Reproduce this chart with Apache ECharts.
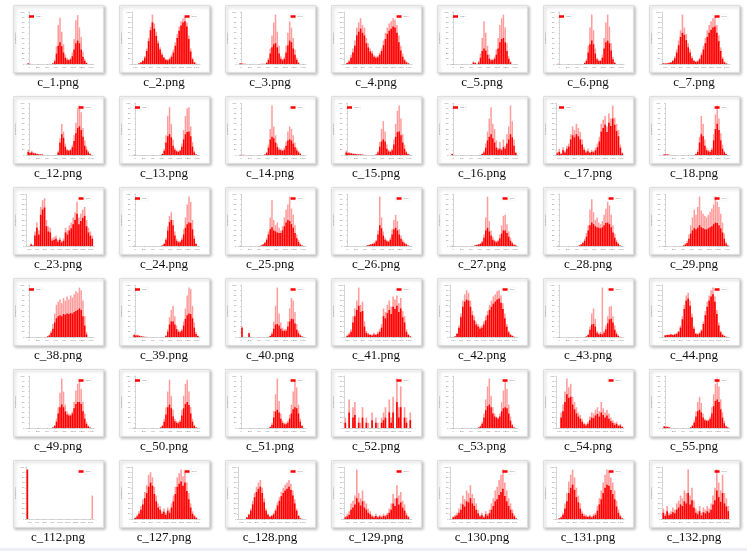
<!DOCTYPE html>
<html>
<head>
<meta charset="utf-8">
<title>histograms</title>
<script src="https://cdn.jsdelivr.net/npm/echarts@6.0.0/dist/echarts.min.js"></script>
<style>
    html, body { margin: 0; padding: 0; background: #fff; }
    #thumbs { width: 747px; height: 551px; }
</style>
</head>
<body>
<div id="thumbs"></div>
<script>
/**
 * 直方图缩略图一览
 */
// file names, row by row (7 per row)
var fileNames = [
    'c_1.png', 'c_2.png', 'c_3.png', 'c_4.png', 'c_5.png', 'c_6.png', 'c_7.png',
    'c_12.png', 'c_13.png', 'c_14.png', 'c_15.png', 'c_16.png', 'c_17.png', 'c_18.png',
    'c_23.png', 'c_24.png', 'c_25.png', 'c_26.png', 'c_27.png', 'c_28.png', 'c_29.png',
    'c_38.png', 'c_39.png', 'c_40.png', 'c_41.png', 'c_42.png', 'c_43.png', 'c_44.png',
    'c_49.png', 'c_50.png', 'c_51.png', 'c_52.png', 'c_53.png', 'c_54.png', 'c_55.png',
    'c_112.png', 'c_127.png', 'c_128.png', 'c_129.png', 'c_130.png', 'c_131.png', 'c_132.png'
];
// 'A' = bins over 0..1400, 'B' = bins over 560..1435
var axisKinds = [
    'A', 'B', 'A', 'B', 'A', 'A', 'B',
    'A', 'A', 'A', 'A', 'A', 'B', 'A',
    'B', 'A', 'A', 'A', 'A', 'A', 'A',
    'A', 'A', 'A', 'B', 'B', 'A', 'B',
    'A', 'A', 'A', 'B', 'A', 'B', 'A',
    'B', 'B', 'B', 'B', 'B', 'B', 'B'
];
// charts whose legend sits in the upper left corner
var legendLeft = ['c_1.png', 'c_5.png', 'c_6.png', 'c_13.png', 'c_15.png', 'c_16.png', 'c_17.png',
    'c_24.png', 'c_38.png', 'c_39.png', 'c_50.png'];

var binStartA = -40, binWidthA = 40;
var binStartB = 560, binWidthB = 25;
var tickValuesA = [0, 200, 400, 600, 800, 1000, 1200, 1400];
var tickValuesB = [600, 700, 800, 900, 1000, 1100, 1200, 1300, 1400];

// light bars (tops of the overlapping bins)
var peakCounts = [
    [2,1,0,0,0,0,0,0,0,0,0,0,0,0,2,9,34,75,89,62,38,18,12,9,12,22,48,84,94,70,52,24,10,3,0,0,0],
    [0,0,0,2,4,8,15,30,50,72,95,78,62,45,32,22,14,10,9,12,18,28,42,58,72,82,88,90,80,55,30,12,4,1,0],
    [2,1,1,1,0,0,0,0,0,0,0,0,1,1,1,4,12,30,55,80,95,62,35,15,10,14,35,60,82,70,50,28,12,4,0,0,0],
    [0,3,8,18,30,45,70,80,88,75,70,50,40,30,25,18,15,16,22,30,45,60,70,78,82,88,85,75,55,35,20,10,5,2,0],
    [0,0,0,0,0,0,0,0,0,0,0,0,5,3,1,6,20,50,82,60,35,18,10,10,14,28,50,75,88,95,70,40,15,5,0,0,0],
    [1,0,0,0,0,0,0,0,0,0,0,0,0,0,0,3,10,35,70,95,65,30,12,8,8,18,50,80,95,72,40,14,4,0,0,0,0],
    [2,1,2,3,4,8,15,28,45,65,95,70,58,40,28,15,8,5,7,12,22,35,50,65,75,82,88,90,75,55,32,14,5,1,0],

    [10,6,8,5,4,3,2,2,1,0,0,0,0,0,0,0,0,8,32,60,45,22,12,10,12,20,38,62,90,95,82,52,28,16,8,4,0],
    [1,0,0,0,0,0,0,0,0,0,0,0,0,0,0,0,3,12,38,75,92,60,30,14,9,8,10,22,48,75,90,92,55,25,8,2,0],
    [1,1,1,0,0,0,0,0,0,0,0,0,0,0,2,6,20,50,95,55,38,22,14,12,10,14,26,45,55,50,38,24,14,8,4,0,0],
    [8,6,5,4,3,3,2,2,2,1,1,0,0,0,0,0,0,2,8,25,50,65,45,20,10,8,12,30,60,85,95,70,40,20,8,3,1],
    [3,0,0,0,0,0,0,0,0,0,0,0,0,0,0,0,0,3,8,22,45,70,92,60,50,28,14,25,12,30,18,40,55,95,65,30,6],
    [6,12,4,15,8,18,22,40,55,48,60,52,45,30,15,8,12,6,10,8,14,22,35,60,68,75,55,80,70,95,72,60,48,20,5],
    [2,2,1,1,0,0,0,0,0,0,0,0,0,0,0,0,0,0,3,10,35,75,60,30,14,10,9,14,40,78,95,70,42,20,8,3,0],

    [0,0,5,2,28,45,30,75,88,92,50,38,35,15,18,20,12,16,10,15,35,30,40,45,55,65,85,55,62,70,75,50,35,28,20],
    [1,0,0,0,0,0,0,0,0,0,0,0,0,0,0,0,2,6,16,38,58,65,50,28,14,10,10,16,32,55,80,95,85,50,20,6,0],
    [1,0,0,0,0,0,0,0,0,0,0,0,2,4,8,15,28,55,88,50,40,45,35,30,38,55,70,80,95,72,60,40,22,12,5,2,0],
    [0,0,0,0,0,0,0,0,0,0,0,0,2,3,4,5,7,12,30,95,55,28,16,12,10,16,32,50,60,48,32,20,12,8,5,2,0],
    [1,0,0,0,0,0,0,0,0,0,0,0,0,2,3,4,6,10,22,55,95,48,30,18,12,10,12,22,40,58,60,42,28,16,8,4,2],
    [1,0,0,0,0,0,0,0,0,0,0,0,2,4,8,14,25,40,70,90,65,50,55,45,42,48,60,72,85,78,60,40,24,12,6,2,0],
    [0,0,0,0,0,0,0,0,0,0,0,2,5,10,22,40,55,70,60,75,95,68,62,58,55,60,66,72,80,95,85,75,62,45,24,8,2],

    [0,0,0,0,0,0,0,0,0,0,0,2,5,12,25,45,62,68,72,65,75,70,78,72,80,76,82,88,85,95,90,70,40,10,0,0,0],
    [6,5,4,3,2,1,1,1,0,0,0,0,0,0,0,0,0,0,4,15,38,52,60,40,22,14,12,16,30,55,80,95,92,60,28,10,3],
    [0,20,0,0,0,8,0,0,0,0,0,0,0,0,0,0,0,3,10,30,60,95,45,28,18,15,16,30,55,75,70,48,25,12,5,2,0],
    [0,4,8,15,40,55,70,95,62,68,30,12,8,6,5,8,6,10,15,25,55,48,62,70,58,78,72,80,65,75,50,40,15,6,2],
    [0,0,2,8,22,45,70,82,90,85,70,50,40,30,25,20,22,30,40,50,62,70,78,82,88,90,80,65,45,25,12,6,3,1,0],
    [0,0,0,0,0,0,0,0,0,0,0,0,0,0,0,0,2,6,20,45,55,35,12,8,10,95,12,22,40,58,60,40,22,10,4,1,0],
    [0,4,5,5,6,5,6,8,12,22,40,62,80,85,70,45,20,8,7,9,15,30,50,68,80,90,95,78,52,28,12,6,3,1,0],

    [0,0,0,0,0,0,0,0,0,0,0,0,0,0,2,6,18,40,68,95,70,45,32,28,26,32,50,72,85,90,75,50,28,12,5,1,0],
    [1,0,0,0,0,0,0,0,0,0,0,0,0,0,0,2,6,18,40,70,93,62,35,18,13,12,16,35,62,85,93,70,40,18,6,2,0],
    [0,0,0,0,0,0,0,0,0,0,0,0,0,0,0,0,0,3,10,32,65,95,52,28,14,10,10,14,25,45,70,90,78,45,18,6,0],
    [20,0,55,0,40,50,0,20,10,40,0,20,10,0,30,0,20,10,0,20,30,40,0,55,20,60,0,95,40,80,0,40,20,0,30],
    [0,0,0,0,0,0,0,0,0,0,0,0,0,0,0,2,5,12,28,55,80,95,62,40,28,22,20,28,50,72,90,75,45,22,8,2,0],
    [0,0,30,45,70,95,78,85,60,50,40,30,25,18,10,8,12,22,30,28,35,40,32,50,38,30,35,28,20,15,10,12,6,8,3],
    [4,4,3,2,0,0,0,0,0,0,0,0,0,0,0,2,6,15,32,50,60,48,28,18,15,16,22,40,65,85,95,80,55,30,14,5,2],

    [95,0,0,0,0,0,0,0,0,0,0,0,0,0,0,0,0,0,0,0,0,0,0,0,0,0,0,0,0,0,0,0,0,0,45],
    [0,3,8,15,25,38,52,65,85,90,80,62,45,30,25,15,20,12,22,18,30,45,62,80,88,95,82,90,70,50,30,15,8,3,0],
    [0,0,0,0,4,10,20,35,50,62,70,75,60,40,20,10,6,8,12,20,32,42,52,60,66,70,75,68,55,38,20,8,2,0,0],
    [5,10,15,30,35,45,95,50,40,55,35,30,20,15,8,6,10,5,8,6,10,8,12,20,30,48,40,65,45,52,35,28,12,6,0],
    [0,5,8,12,20,30,45,38,55,50,65,48,40,30,18,8,12,5,15,10,18,30,40,55,62,75,85,95,70,55,40,30,18,8,2],
    [0,2,5,12,30,50,72,85,95,80,60,45,30,15,10,8,6,8,5,10,12,25,40,55,70,85,95,90,80,70,55,35,18,8,2],
    [20,10,25,12,15,22,18,30,35,45,40,55,50,95,45,60,35,20,15,25,12,22,18,25,20,30,45,60,95,70,55,85,50,40,25]
];

// solid bars (where the bins overlap)
var baseCounts = [
    [1,0,0,0,0,0,0,0,0,0,0,0,0,0,1,5,20,35,42,34,22,12,8,7,9,15,28,40,45,40,28,14,6,2,0,0,0],
    [0,0,0,1,3,6,12,25,44,65,80,68,54,40,28,18,12,8,7,9,14,22,35,50,64,74,80,82,72,48,24,9,3,0,0],
    [1,1,0,0,0,0,0,0,0,0,0,0,0,0,0,2,8,20,32,38,40,32,20,10,7,10,22,36,45,42,30,18,8,2,0,0,0],
    [0,2,5,12,22,35,55,62,68,60,55,40,32,24,20,14,12,13,18,25,36,48,58,64,68,72,70,60,42,26,14,7,3,1,0],
    [0,0,0,0,0,0,0,0,0,0,0,0,3,2,0,3,12,25,30,26,18,10,7,7,10,18,30,42,48,50,42,25,10,3,0,0,0],
    [0,0,0,0,0,0,0,0,0,0,0,0,0,0,0,2,6,22,38,45,38,20,9,6,6,12,30,42,45,40,26,9,2,0,0,0,0],
    [1,1,1,2,3,6,11,22,36,52,60,56,46,32,22,11,6,4,5,9,17,28,40,52,60,66,70,72,60,44,25,10,3,1,0],

    [6,4,5,3,3,2,1,1,1,0,0,0,0,0,0,0,0,5,24,40,33,16,9,8,9,15,27,42,52,55,48,35,18,10,5,2,0],
    [0,0,0,0,0,0,0,0,0,0,0,0,0,0,0,0,2,8,24,36,40,34,18,10,7,6,8,16,30,40,44,45,36,16,5,1,0],
    [0,0,0,0,0,0,0,0,0,0,0,0,0,0,1,4,14,30,35,32,24,15,10,9,8,10,18,28,30,28,22,15,9,5,2,0,0],
    [5,4,3,3,2,2,1,1,1,1,0,0,0,0,0,0,0,1,5,16,26,30,26,12,7,6,9,20,35,44,45,38,24,12,5,2,0],
    [2,0,0,0,0,0,0,0,0,0,0,0,0,0,0,0,0,2,5,14,28,35,40,32,24,14,10,12,9,15,12,22,30,40,34,18,4],
    [3,6,2,9,5,12,16,30,38,34,40,36,30,20,10,5,7,4,6,5,9,15,26,45,52,58,44,62,56,70,58,46,36,14,3],
    [1,1,1,0,0,0,0,0,0,0,0,0,0,0,0,0,0,0,2,6,24,40,36,18,9,7,6,10,28,50,60,48,28,12,5,2,0],

    [0,0,3,1,20,35,22,60,70,74,38,28,26,10,12,14,8,12,7,10,26,22,30,34,42,50,62,42,48,54,58,38,26,20,14],
    [0,0,0,0,0,0,0,0,0,0,0,0,0,0,0,0,1,4,12,30,46,50,40,20,10,7,7,12,22,35,42,45,44,32,14,4,0],
    [0,0,0,0,0,0,0,0,0,0,0,0,1,3,6,12,22,32,36,30,28,26,25,25,30,38,45,50,48,42,35,25,15,8,3,1,0],
    [0,0,0,0,0,0,0,0,0,0,0,0,1,2,3,4,5,9,22,40,34,20,12,9,8,12,22,32,35,30,22,14,8,5,3,1,0],
    [0,0,0,0,0,0,0,0,0,0,0,0,0,1,2,3,4,7,16,30,35,28,20,12,9,7,9,15,24,30,30,25,18,10,5,2,1],
    [0,0,0,0,0,0,0,0,0,0,0,0,1,3,6,10,18,30,40,45,42,38,36,35,34,36,40,44,45,42,36,26,16,8,4,1,0],
    [0,0,0,0,0,0,0,0,0,0,0,1,3,6,14,24,30,34,32,35,40,36,34,32,32,34,36,38,42,45,44,40,34,26,14,5,1],

    [0,0,0,0,0,0,0,0,0,0,0,1,3,8,16,28,36,40,42,40,44,43,45,44,46,45,48,50,52,55,52,40,22,5,0,0,0],
    [4,3,3,2,1,1,0,0,0,0,0,0,0,0,0,0,0,0,2,10,24,30,30,24,15,10,9,12,22,35,42,45,44,36,18,6,2],
    [0,18,0,0,0,7,0,0,0,0,0,0,0,0,0,0,0,2,6,16,24,25,22,16,12,12,12,20,30,35,34,26,14,7,3,1,0],
    [0,2,5,10,28,40,52,60,48,50,20,8,5,4,3,5,4,6,10,18,40,36,46,52,44,58,54,60,48,55,38,28,10,4,1],
    [0,0,1,6,18,38,58,68,72,70,58,42,32,24,20,16,18,24,32,42,52,58,64,68,72,74,66,54,36,20,9,4,2,0,0],
    [0,0,0,0,0,0,0,0,0,0,0,0,0,0,0,0,1,4,14,24,25,20,8,5,6,5,8,15,26,34,35,28,14,6,2,0,0],
    [0,3,4,4,5,4,5,6,10,18,34,54,70,74,60,38,16,6,5,7,12,25,42,58,70,78,82,68,44,22,9,4,2,0,0],

    [0,0,0,0,0,0,0,0,0,0,0,0,0,0,1,4,12,28,40,45,40,32,26,24,24,28,38,46,50,50,46,32,18,8,3,1,0],
    [0,0,0,0,0,0,0,0,0,0,0,0,0,0,0,1,4,12,26,40,45,38,22,13,10,9,12,24,38,46,50,44,28,12,4,1,0],
    [0,0,0,0,0,0,0,0,0,0,0,0,0,0,0,0,0,2,6,20,32,35,30,18,10,7,7,10,18,28,36,40,38,28,12,4,0],
    [10,0,30,0,20,25,0,10,0,20,0,10,0,0,15,0,10,0,0,10,15,20,0,30,10,30,0,50,20,40,0,20,10,0,15],
    [0,0,0,0,0,0,0,0,0,0,0,0,0,0,0,1,3,8,20,34,42,45,40,28,22,20,18,22,32,38,40,38,28,14,5,1,0],
    [0,0,20,32,50,65,58,60,45,36,28,22,18,12,7,5,8,15,20,19,24,27,22,30,25,20,24,18,13,10,6,8,4,5,2],
    [3,2,2,1,0,0,0,0,0,0,0,0,0,0,0,1,4,10,22,32,35,30,20,15,14,14,18,28,42,52,55,50,36,20,9,3,1],

    [95,0,0,0,0,0,0,0,0,0,0,0,0,0,0,0,0,0,0,0,0,0,0,0,0,0,0,0,0,0,0,0,0,0,0],
    [0,2,5,10,18,28,40,50,62,70,64,48,34,22,18,10,14,8,16,12,22,34,48,62,68,72,64,70,54,38,22,10,5,2,0],
    [0,0,0,0,3,8,16,28,42,52,58,62,50,32,16,8,4,6,9,16,26,35,44,50,55,58,62,56,45,30,16,6,1,0,0],
    [3,5,8,18,22,28,40,32,26,34,22,18,12,9,5,3,6,3,5,3,6,5,8,12,18,30,25,40,28,32,22,16,7,3,0],
    [0,3,5,7,12,18,28,24,34,32,40,30,25,18,11,5,7,3,9,6,11,18,25,34,38,46,52,58,44,34,25,18,11,5,1],
    [0,1,3,8,20,34,50,60,66,56,42,32,20,10,6,5,4,5,3,6,8,16,28,38,50,60,66,64,56,48,38,24,12,5,1],
    [12,6,15,7,9,13,11,18,22,28,25,34,30,50,28,36,22,12,9,15,7,13,11,15,12,18,28,36,55,42,33,50,30,24,15]
];

var myChart = echarts.init(document.getElementById('thumbs'), null, { renderer: 'canvas' });

// 卡片布局
var cardW = 90, cardH = 67;
var colStep = 106, rowStep = 91;
var plotW = 68, plotH = 52;

function binData(counts, start, width) {
    var out = [];
    for (var i = 0; i < counts.length; i++) {
        out.push([start + (i + 0.5) * width, counts[i]]);
    }
    return out;
}

// 刻度文字不要千分位
function plainNumber(v) {
    return String(v);
}

function buildOption() {
    var grids = [], xAxes = [], yAxes = [], series = [], legends = [], graphics = [];

    // light strip at the very bottom of the window
    graphics.push({
        type: 'rect', shape: { x: 0, y: 548, width: 747, height: 3 },
        style: { fill: '#eef0f7' }, silent: true
    });

    for (var k = 0; k < fileNames.length; k++) {
        var col = k % 7, row = Math.floor(k / 7);
        var cx = 13 + col * colStep, cy = 5 + row * rowStep;
        var kindA = axisKinds[k] === 'A';
        var xMin = kindA ? -70 : 555, xMax = kindA ? 1470 : 1445;
        var start = kindA ? binStartA : binStartB;
        var width = kindA ? binWidthA : binWidthB;
        var ticks = kindA ? tickValuesA : tickValuesB;
        var bw = width / (xMax - xMin) * plotW * 0.85;

        // card with shadow
        graphics.push({
            type: 'rect', z: 0,
            shape: { x: cx + 0.5, y: cy + 0.5, width: cardW, height: cardH },
            style: {
                fill: '#ffffff', stroke: '#dedede', lineWidth: 1,
                shadowBlur: 3, shadowOffsetX: 1.5, shadowOffsetY: 1.5,
                shadowColor: 'rgba(0,0,0,0.25)'
            },
            silent: true
        });
        // file name under the card
        graphics.push({
            type: 'text', z: 1,
            style: {
                text: fileNames[k], x: cx + cardW / 2, y: cy + 78,
                align: 'center', verticalAlign: 'middle',
                font: '13px "Liberation Serif"', fill: '#111'
            },
            silent: true
        });

        grids.push({
            left: cx + 13, top: cy + 7, width: plotW, height: plotH,
            show: true, borderColor: '#c0c0c0', borderWidth: 0.6,
            backgroundColor: '#fff'
        });
        xAxes.push({
            gridIndex: k, type: 'value', min: xMin, max: xMax,
            axisLine: { show: true, lineStyle: { color: '#b8b8b8', width: 0.6 } },
            axisTick: { show: true, length: 1, customValues: ticks, lineStyle: { color: '#aaa', width: 0.5 } },
            axisLabel: { fontSize: 2.5, color: '#808080', margin: 1.5, customValues: ticks, formatter: plainNumber },
            splitLine: { show: false }
        });
        yAxes.push({
            gridIndex: k, type: 'value', min: 0, max: 100, interval: 10,
            name: 'Frequency', nameLocation: 'middle', nameGap: 8, nameRotate: 90,
            nameTextStyle: { fontSize: 2.5, color: '#888' },
            axisLine: { show: true, lineStyle: { color: '#b8b8b8', width: 0.6 } },
            axisTick: { show: true, length: 1, lineStyle: { color: '#aaa', width: 0.5 } },
            axisLabel: { fontSize: 2.5, color: '#808080', margin: 1.5, formatter: plainNumber },
            splitLine: { show: false }
        });
        series.push({
            type: 'bar', name: 'Gray peaks', xAxisIndex: k, yAxisIndex: k,
            barWidth: bw, silent: true,
            itemStyle: { color: '#ff9c9c' },
            data: binData(peakCounts[k], start, width)
        });
        series.push({
            type: 'bar', name: 'Gray', xAxisIndex: k, yAxisIndex: k,
            barWidth: bw, barGap: '-100%', silent: true,
            itemStyle: { color: '#ff0000' },
            data: binData(baseCounts[k], start, width)
        });

        var onLeft = legendLeft.indexOf(fileNames[k]) >= 0;
        var lg = {
            data: ['Gray'], top: cy + 9, icon: 'rect',
            itemWidth: 5, itemHeight: 2.5, itemGap: 1, padding: [1, 1, 1, 1],
            borderColor: '#e0e0e0', borderWidth: 0.3, selectedMode: false,
            textStyle: { fontSize: 2.5, color: '#888', padding: [0, 0, 0, -3] }
        };
        if (onLeft) {
            lg.left = cx + 15;
        } else {
            lg.right = 747 - (cx + 13 + plotW - 2);
        }
        legends.push(lg);
    }

    return {
        animation: false,
        backgroundColor: '#ffffff',
        grid: grids,
        xAxis: xAxes,
        yAxis: yAxes,
        legend: legends,
        graphic: graphics,
        series: series
    };
}

myChart.setOption(buildOption());
</script>
</body>
</html>
